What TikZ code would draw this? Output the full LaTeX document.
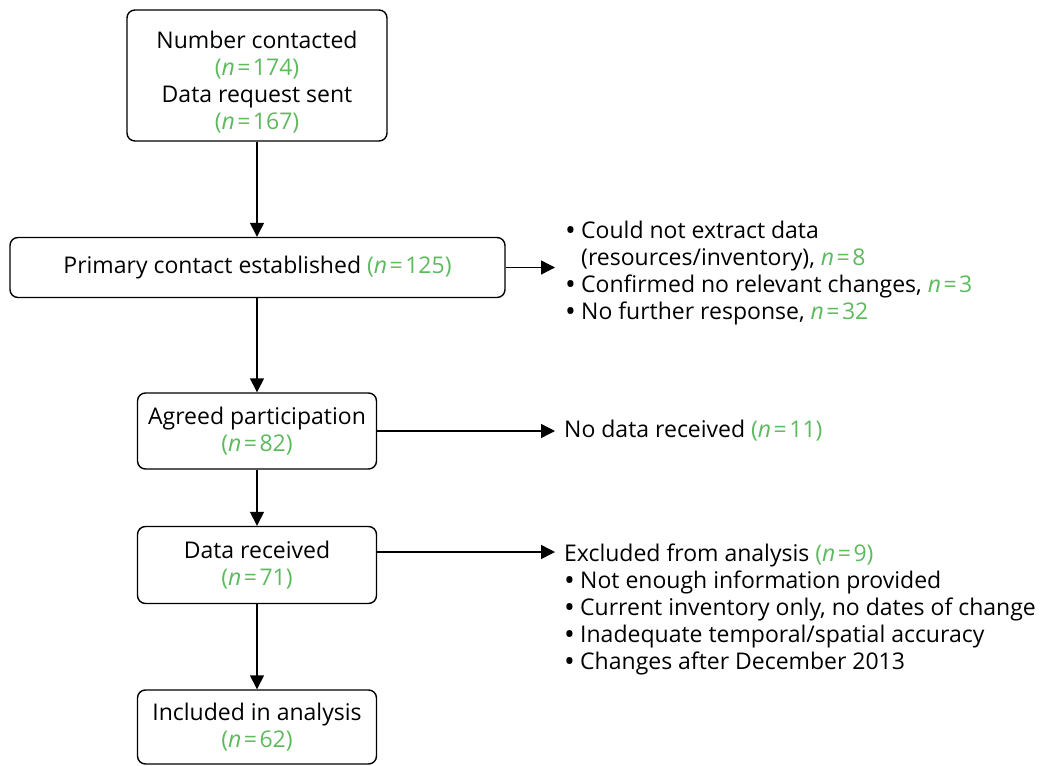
\documentclass[tikz,border=0pt]{standalone}
\usepackage{fontspec}
\setmainfont{Open Sans}
\usetikzlibrary{arrows.meta}
\definecolor{ngreen}{RGB}{94,186,94}
\newcommand{\nn}[1]{\textcolor{ngreen}{(\textit{n}\kern2.5pt=\kern2.5pt#1)}}
\newcommand{\nv}[1]{\textcolor{ngreen}{\textit{n}\kern2.5pt=\kern2.5pt#1}}
\newcommand{\fs}{\fontsize{23}{27}\selectfont}
\newcommand{\bl}{\makebox[16pt][l]{\raisebox{-2pt}{\scalebox{1.25}{\textbullet}}}}
\begin{document}
\begin{tikzpicture}[x=1pt,y=-1pt,
  box/.style={draw, rounded corners=8pt, line width=1.4pt, inner sep=0pt, align=center, font=\fs},
  txt/.style={inner sep=0pt, align=left, font=\fs, anchor=west},
  arr/.style={line width=1.4pt, -{Triangle[length=14pt,width=14pt]}}]
\useasboundingbox (0,0) rectangle (1043,765);
\node[box, minimum width=260pt, minimum height=131pt] (top) at (257,75.5)
  {\rule{0pt}{30pt}Number contacted\\ \nn{174}\\ Data request sent\\ \nn{167}};
\node[box, minimum width=495pt, minimum height=60pt] (prim) at (257.5,267.5)
  {Primary contact established \nn{125}};
\node[box, minimum width=239pt, minimum height=76pt] (agr) at (257,431)
  {Agreed participation\\ \nn{82}};
\node[box, minimum width=239pt, minimum height=77pt] (dat) at (257,565)
  {Data received\\ \nn{71}};
\node[box, minimum width=239pt, minimum height=74pt] (inc) at (257,727)
  {Included in analysis\\ \nn{62}};
\node[txt] (r1) at (565,273.5)
  {\bl Could not extract data\\ \hspace*{16pt}(resources/inventory), \nv{8}\\ \bl Confirmed no relevant changes, \nv{3}\\ \bl No further response, \nv{32}};
\node[txt] (r2) at (564,431) {No data received \nn{11}};
\node[txt, anchor=north west] (r3) at (564,543.5)
  {Excluded from analysis \nn{9}\\ \bl Not enough information provided\\ \bl Current inventory only, no dates of change\\ \bl Inadequate temporal/spatial accuracy\\ \bl Changes after December 2013};
\coordinate (c1) at (555,267.5);
\coordinate (c2) at (555,431);
\coordinate (c3) at (555,552);
\draw[arr] (top.south) -- (top.south |- prim.north);
\draw[arr] (prim.south -| agr.north) -- (agr.north);
\draw[arr] (agr.south) -- (dat.north);
\draw[arr] (dat.south) -- (inc.north);
\draw[arr] (prim.east) -- (c1);
\draw[arr] (agr.east) -- (c2);
\draw[arr] (dat.east |- c3) -- (c3);
\end{tikzpicture}
\end{document}
